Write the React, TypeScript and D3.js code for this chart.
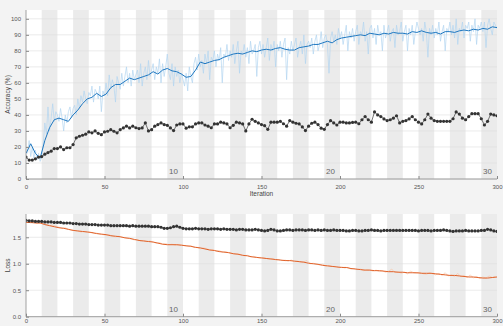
import * as d3 from "d3";
import { useEffect, useRef } from "react";

// training accuracy, one value per iteration (1..300)
const ACC_RAW = [
  16, 24, 14, 20, 13, 18, 12, 16, 11, 14,
  22, 35, 28, 45, 30, 38, 47, 36, 42, 40,
  36, 44, 38, 30, 40, 35, 42, 45, 38, 44,
  46, 40, 50, 44, 52, 48, 55, 50, 47, 54,
  52, 58, 48, 56, 54, 50, 58, 42, 55, 52,
  60, 52, 65, 56, 62, 58, 48, 64, 60, 56,
  66, 58, 64, 70, 60, 66, 58, 68, 62, 65,
  68, 60, 72, 58, 66, 70, 62, 74, 64, 68,
  72, 62, 70, 66, 75, 60, 72, 64, 70, 78,
  66, 62, 72, 58, 70, 64, 68, 60, 66, 62,
  58, 66, 55, 70, 64, 60, 72, 76, 68, 78,
  70, 74, 66, 78, 72, 80, 62, 76, 74, 80,
  70, 78, 74, 82, 60, 78, 76, 84, 74, 80,
  76, 84, 72, 80, 86, 66, 80, 78, 84, 76,
  82, 72, 86, 78, 80, 84, 64, 82, 86, 78,
  84, 76, 82, 88, 74, 84, 80, 86, 70, 84,
  80, 86, 76, 84, 88, 62, 82, 78, 86, 80,
  84, 88, 76, 82, 86, 78, 90, 72, 84, 86,
  82, 88, 78, 86, 90, 80, 84, 92, 82, 88,
  90, 84, 66, 88, 92, 86, 90, 84, 94, 88,
  92, 84, 90, 96, 80, 92, 88, 94, 86, 92,
  96, 84, 92, 90, 98, 86, 92, 78, 94, 96,
  88, 94, 84, 96, 90, 92, 80, 96, 88, 92,
  96, 86, 92, 94, 82, 96, 90, 92, 98, 86,
  92, 96, 80, 94, 90, 96, 84, 92, 98, 94,
  90, 94, 86, 98, 92, 76, 94, 90, 96, 88,
  94, 90, 98, 86, 92, 96, 80, 94, 92, 98,
  90, 96, 88, 100, 84, 94, 92, 98, 88, 96,
  94, 98, 86, 96, 92, 100, 84, 96, 94, 98,
  92, 98, 82, 96, 100, 94, 90, 98, 96, 94,
];

// smoothed training accuracy, every 3 iterations (0..300)
const ACC_SMOOTH = [
  16, 22, 16, 13, 24, 32, 37, 38, 37, 36,
  40, 43, 47, 50, 51, 53.5, 51.5, 53, 57, 59,
  59, 61, 63, 62, 63, 64, 65, 67, 65.5, 68,
  69, 67.5, 67, 65.5, 63.5, 64, 68, 73, 72, 73,
  74, 74.5, 76, 77, 78, 78.5, 78, 79, 80, 79.5,
  80.5, 81, 80.5, 81.5, 82, 81, 80.5, 80.5, 82, 82.5,
  83, 84, 84, 85, 86, 85, 87, 88, 88.5, 89,
  89.5, 90, 89.5, 91, 90.5, 90, 91, 90.5, 91.5, 91,
  91, 90.5, 92, 91.5, 92.5, 91.5, 91, 91.5, 90.5, 92,
  92, 91.5, 92.5, 93, 92.5, 93.5, 93, 94, 93.5, 95,
  94.5,
];

// validation accuracy, every 2 iterations (0..300)
const ACC_VAL = [
  13.7,
  11.8, 11.8, 12.6, 13.7, 14, 15.5, 16.5, 17.4, 19, 19,
  20, 18.4, 19.5, 19.5, 21.5, 25.7, 26.7, 27.3, 28, 29.4,
  28.8, 30, 28.5, 27.7, 29.4, 29.8, 30.8, 29.8, 28.8, 30.8,
  31.9, 33, 31.9, 33, 32, 31.5, 31.9, 35, 30, 30.8,
  33, 34, 35, 34, 33.5, 31.9, 30.2, 33.7, 34.4, 34.4,
  31.7, 32.6, 32.6, 34.4, 35, 35, 33.7, 33, 32, 34.4,
  34.4, 35.5, 35, 34.4, 32, 33.5, 35.5, 35, 34.4, 30,
  34.4, 37.3, 36, 35, 34, 33.3, 31, 35.5, 35.5, 35.5,
  36, 34.5, 33, 36.5, 35.5, 34.8, 34.4, 32.5, 30.2, 33,
  34.8, 35.5, 34, 31.7, 31, 34, 36.4, 35, 33.7, 35.5,
  35.5, 35, 35, 35.3, 35.5, 34.5, 37, 39, 37, 35.5,
  41.9, 40, 39, 37.5, 36.5, 37, 38, 39.5, 35, 36,
  36.5, 37.5, 39, 37, 35.5, 34.4, 37, 40.5, 38, 36.5,
  36, 36, 36, 36, 36, 37.6, 41.9, 40.5, 38, 37,
  39, 40.8, 40.8, 40.8, 37.6, 33.7, 36, 40.5, 40, 39.5,
];

// training loss, iterations 1, 3, 5 ... 299
const LOSS_RAW = [
  1.80, 1.77, 1.79, 1.76, 1.77, 1.76, 1.75, 1.72, 1.73, 1.71,
  1.69, 1.67, 1.68, 1.65, 1.64, 1.63, 1.62, 1.60, 1.61, 1.60,
  1.59, 1.57, 1.58, 1.56, 1.55, 1.54, 1.55, 1.52, 1.51, 1.52,
  1.50, 1.49, 1.48, 1.47, 1.45, 1.46, 1.43, 1.44, 1.42, 1.43,
  1.41, 1.39, 1.40, 1.37, 1.38, 1.36, 1.37, 1.35, 1.36, 1.36,
  1.34, 1.33, 1.34, 1.31, 1.31, 1.28, 1.30, 1.29, 1.26, 1.27,
  1.24, 1.25, 1.22, 1.23, 1.21, 1.20, 1.18, 1.19, 1.17, 1.15,
  1.16, 1.13, 1.14, 1.12, 1.11, 1.12, 1.10, 1.09, 1.10, 1.07,
  1.08, 1.06, 1.07, 1.05, 1.07, 1.04, 1.05, 1.03, 1.04, 1.06,
  1.00, 1.01, 0.99, 0.98, 0.99, 0.96, 0.97, 0.95, 0.95, 0.93,
  0.94, 0.92, 0.93, 0.90, 0.91, 0.89, 0.90, 0.87, 0.89, 0.88,
  0.86, 0.88, 0.85, 0.87, 0.84, 0.86, 0.90, 0.83, 0.85, 0.82,
  0.84, 0.81, 0.86, 0.83, 0.82, 0.84, 0.81, 0.80, 0.83, 0.81,
  0.79, 0.82, 0.78, 0.83, 0.77, 0.79, 0.76, 0.82, 0.75, 0.78,
  0.74, 0.79, 0.73, 0.76, 0.72, 0.75, 0.73, 0.77, 0.74, 0.76,
];

// smoothed training loss, every 3 iterations (0..300)
const LOSS_SMOOTH = [
  1.78, 1.78, 1.77, 1.77, 1.74, 1.72, 1.70, 1.68, 1.67, 1.65,
  1.63, 1.62, 1.61, 1.60, 1.59, 1.57, 1.56, 1.55, 1.53, 1.52,
  1.51, 1.49, 1.48, 1.46, 1.44, 1.43, 1.42, 1.41, 1.39, 1.37,
  1.36, 1.36, 1.36, 1.35, 1.34, 1.33, 1.31, 1.30, 1.28, 1.26,
  1.25, 1.23, 1.22, 1.21, 1.19, 1.18, 1.16, 1.15, 1.13, 1.12,
  1.11, 1.10, 1.09, 1.08, 1.07, 1.06, 1.06, 1.05, 1.04, 1.03,
  1.01, 1.00, 0.99, 0.97, 0.96, 0.95, 0.94, 0.93, 0.93, 0.91,
  0.90, 0.89, 0.88, 0.88, 0.87, 0.87, 0.86, 0.85, 0.85, 0.84,
  0.84, 0.83, 0.83, 0.83, 0.82, 0.82, 0.82, 0.81, 0.80, 0.79,
  0.78, 0.78, 0.77, 0.76, 0.75, 0.75, 0.74, 0.73, 0.73, 0.74,
  0.75,
];

// validation loss, every 2 iterations (0..300)
const LOSS_VAL = [
  1.82,
  1.81, 1.81, 1.80, 1.80, 1.80, 1.79, 1.79, 1.79, 1.78, 1.78,
  1.78, 1.77, 1.77, 1.77, 1.76, 1.76, 1.75, 1.75, 1.75, 1.74,
  1.74, 1.74, 1.73, 1.73, 1.73, 1.73, 1.72, 1.72, 1.72, 1.72,
  1.72, 1.72, 1.71, 1.72, 1.71, 1.71, 1.71, 1.71, 1.71, 1.70,
  1.70, 1.70, 1.69, 1.67, 1.67, 1.68, 1.70, 1.71, 1.69, 1.67,
  1.66, 1.66, 1.66, 1.67, 1.66, 1.66, 1.66, 1.65, 1.66, 1.66,
  1.66, 1.65, 1.66, 1.65, 1.65, 1.65, 1.64, 1.65, 1.65, 1.64,
  1.64, 1.64, 1.65, 1.64, 1.63, 1.62, 1.63, 1.65, 1.64, 1.62,
  1.62, 1.63, 1.64, 1.64, 1.63, 1.64, 1.64, 1.64, 1.63, 1.64,
  1.64, 1.63, 1.64, 1.63, 1.64, 1.63, 1.63, 1.64, 1.63, 1.63,
  1.63, 1.62, 1.62, 1.63, 1.63, 1.62, 1.62, 1.63, 1.63, 1.64,
  1.63, 1.63, 1.62, 1.63, 1.63, 1.63, 1.63, 1.63, 1.63, 1.63,
  1.63, 1.63, 1.63, 1.63, 1.62, 1.63, 1.63, 1.63, 1.62, 1.63,
  1.63, 1.63, 1.64, 1.63, 1.62, 1.61, 1.62, 1.62, 1.62, 1.63,
  1.62, 1.62, 1.62, 1.62, 1.63, 1.63, 1.65, 1.64, 1.62, 1.61,
];

const X_TICKS = [0, 50, 100, 150, 200, 250, 300];
const ACC_TICKS = [0, 10, 20, 30, 40, 50, 60, 70, 80, 90, 100];
const LOSS_TICKS = [0, 0.5, 1, 1.5];
const EPOCH_LABELS = [10, 20, 30];
const ITERS_PER_EPOCH = 10;
const N_EPOCHS = 30;

const W = 503;
const H = 326;
const FONT = "'Liberation Sans', Arial, sans-serif";

function drawPanel(svg, opts) {
  const { id, top, bottom, yMax, ticks, ylabel, raw, smooth, val, rawColor, smoothColor, xlabel, xPad } = opts;
  const left = 26;
  const right = 497;

  const x = d3.scaleLinear().domain([0, 300]).range([left, right]);
  const y = d3.scaleLinear().domain([0, yMax]).range([bottom, top]);

  const g = svg.append("g");

  g.append("clipPath").attr("id", id)
    .append("rect").attr("x", left).attr("y", top)
    .attr("width", right - left).attr("height", bottom - top);

  g.append("rect")
    .attr("x", left).attr("y", top)
    .attr("width", right - left).attr("height", bottom - top)
    .attr("fill", "#ffffff");

  // epoch bands (every other epoch shaded)
  g.selectAll("rect.band")
    .data(d3.range(1, N_EPOCHS, 2))
    .join("rect")
    .attr("class", "band")
    .attr("x", e => x(e * ITERS_PER_EPOCH))
    .attr("y", top)
    .attr("width", x(ITERS_PER_EPOCH) - x(0))
    .attr("height", bottom - top)
    .attr("fill", "#ebebeb");

  // grid
  g.selectAll("line.grid")
    .data(ticks)
    .join("line")
    .attr("x1", left).attr("x2", right)
    .attr("y1", d => y(d)).attr("y2", d => y(d))
    .attr("stroke", "#dedede")
    .attr("stroke-width", 0.6);

  // epoch labels
  g.selectAll("text.epoch")
    .data(EPOCH_LABELS)
    .join("text")
    .attr("x", d => x(d * ITERS_PER_EPOCH) - 5)
    .attr("y", bottom - 5)
    .attr("text-anchor", "end")
    .attr("font-family", FONT)
    .attr("font-size", 8)
    .attr("fill", "#666")
    .text(d => d);

  const plot = g.append("g").attr("clip-path", `url(#${id})`);

  const line = d3.line().x(d => x(d[0])).y(d => y(d[1]));

  plot.append("path")
    .datum(raw)
    .attr("d", line)
    .attr("fill", "none")
    .attr("stroke", rawColor)
    .attr("stroke-width", 0.7);

  plot.append("path")
    .datum(smooth)
    .attr("d", line)
    .attr("fill", "none")
    .attr("stroke", smoothColor)
    .attr("stroke-width", 1);

  plot.append("path")
    .datum(val)
    .attr("d", line)
    .attr("fill", "none")
    .attr("stroke", "#3a3a3a")
    .attr("stroke-width", 0.7);

  plot.selectAll("circle")
    .data(val)
    .join("circle")
    .attr("cx", d => x(d[0]))
    .attr("cy", d => y(d[1]))
    .attr("r", 1.6)
    .attr("fill", "#333");

  // axes, MATLAB style ticks pointing inward
  const xAxis = g.append("g").attr("transform", `translate(0,${bottom})`)
    .call(d3.axisBottom(x).tickValues(X_TICKS).tickSizeInner(-3).tickSizeOuter(0).tickPadding(xPad));
  const yAxis = g.append("g").attr("transform", `translate(${left},0)`)
    .call(d3.axisLeft(y).tickValues(ticks).tickSizeInner(-3).tickSizeOuter(0).tickPadding(5));

  [xAxis, yAxis].forEach(a => {
    a.select(".domain").attr("stroke", "#8a8a8a").attr("stroke-width", 0.8);
    a.selectAll(".tick line").attr("stroke", "#8a8a8a");
    a.selectAll(".tick text")
      .attr("font-family", FONT)
      .attr("font-size", 6)
      .attr("fill", "#555");
  });
  yAxis.select(".domain").attr("d", `M0,${top}V${bottom}`);
  xAxis.select(".domain").attr("d", `M${left},0H${right}`);

  if (xlabel) {
    g.append("text")
      .attr("x", (left + right) / 2)
      .attr("y", bottom + 17)
      .attr("text-anchor", "middle")
      .attr("font-family", FONT)
      .attr("font-size", 6.5)
      .attr("fill", "#444")
      .text(xlabel);
  }

  g.append("text")
    .attr("transform", `translate(10,${(top + bottom) / 2}) rotate(-90)`)
    .attr("text-anchor", "middle")
    .attr("font-family", FONT)
    .attr("font-size", 6.5)
    .attr("fill", "#444")
    .text(ylabel);
}

export default function App() {
  const svgRef = useRef(null);

  useEffect(() => {
    const svg = d3.select(svgRef.current);
    svg.selectAll("*").remove();

    svg.append("rect").attr("width", W).attr("height", H).attr("fill", "#f3f3f3");

    drawPanel(svg, {
      id: "clip-acc",
      top: 10,
      bottom: 179,
      yMax: 105.5,
      ticks: ACC_TICKS,
      ylabel: "Accuracy (%)",
      xlabel: "Iteration",
      xPad: 6,
      raw: ACC_RAW.map((v, i) => [i + 1, v]),
      smooth: ACC_SMOOTH.map((v, i) => [i * 3, v]),
      val: ACC_VAL.map((v, i) => [i * 2, v]),
      rawColor: "#b3d6f1",
      smoothColor: "#1f78c1",
    });

    drawPanel(svg, {
      id: "clip-loss",
      top: 214,
      bottom: 316.7,
      yMax: 1.94,
      ticks: LOSS_TICKS,
      ylabel: "Loss",
      xlabel: null,
      xPad: 2,
      raw: LOSS_RAW.map((v, i) => [i * 2 + 1, v]),
      smooth: LOSS_SMOOTH.map((v, i) => [i * 3, v]),
      val: LOSS_VAL.map((v, i) => [i * 2, v]),
      rawColor: "#f6c9ad",
      smoothColor: "#e0622a",
    });
  }, []);

  return (
    <svg
      ref={svgRef}
      width={W}
      height={H}
      style={{ position: "absolute", left: 0, top: 0, display: "block" }}
    />
  );
}
